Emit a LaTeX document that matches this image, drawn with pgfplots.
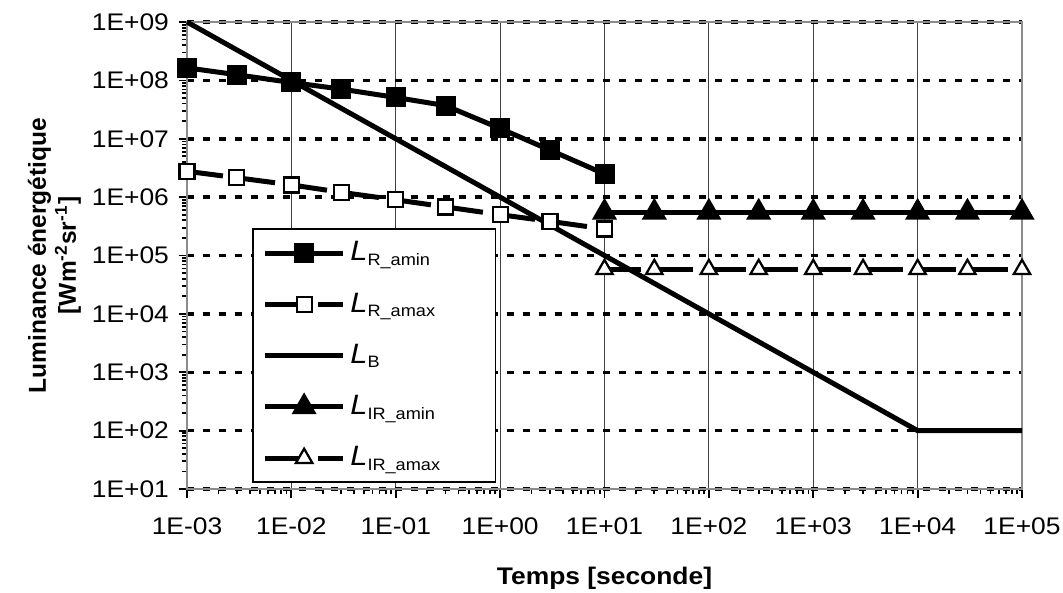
\documentclass[border=0pt]{standalone}
\usepackage{pgfplots}
\pgfplotsset{compat=1.18}
\usepackage{fontspec}
\setmainfont[FakeStretch=1.1]{Liberation Sans}
\newfontfamily\plainfont{Liberation Sans}
\usetikzlibrary{calc}

\newcommand{\leg}[1]{\makebox[52pt][l]{{\fontsize{11.2}{11}\selectfont\itshape L}\raisebox{-1.8pt}{\fontsize{6.6}{7}\selectfont #1}}}

\begin{document}%
\begin{tikzpicture}[font=\fontsize{9.6}{11}\selectfont]
\begin{axis}[
 name=ax, scale only axis, width=334pt, height=186.8pt,
 xmode=log, ymode=log, xmin=1e-3, xmax=1e5, ymin=10, ymax=1e9,
 clip=false,
 xtick={1e-3,1e-2,1e-1,1,10,100,1e3,1e4,1e5},
 xticklabels={1E-03,1E-02,1E-01,1E+00,1E+01,1E+02,1E+03,1E+04,1E+05},
 ytick={10,100,1e3,1e4,1e5,1e6,1e7,1e8,1e9},
 yticklabels={1E+01,1E+02,1E+03,1E+04,1E+05,1E+06,1E+07,1E+08,1E+09},
 minor xtick={2e-3,3e-3,4e-3,5e-3,6e-3,7e-3,8e-3,9e-3,
   2e-2,3e-2,4e-2,5e-2,6e-2,7e-2,8e-2,9e-2,
   2e-1,3e-1,4e-1,5e-1,6e-1,7e-1,8e-1,9e-1,
   2,3,4,5,6,7,8,9,20,30,40,50,60,70,80,90,
   200,300,400,500,600,700,800,900,
   2e3,3e3,4e3,5e3,6e3,7e3,8e3,9e3,
   2e4,3e4,4e4,5e4,6e4,7e4,8e4,9e4},
 minor ytick={20,30,40,50,60,70,80,90,
   200,300,400,500,600,700,800,900,
   2e3,3e3,4e3,5e3,6e3,7e3,8e3,9e3,
   2e4,3e4,4e4,5e4,6e4,7e4,8e4,9e4,
   2e5,3e5,4e5,5e5,6e5,7e5,8e5,9e5,
   2e6,3e6,4e6,5e6,6e6,7e6,8e6,9e6,
   2e7,3e7,4e7,5e7,6e7,7e7,8e7,9e7,
   2e8,3e8,4e8,5e8,6e8,7e8,8e8,9e8},
 tick label style={font=\fontsize{9.6}{11}\selectfont},
 xticklabel style={yshift=-4.5pt},
 yticklabel style={xshift=-0.3pt},
 axis line style={black!45, line width=0.9pt},
 tick align=outside, tick pos=left,
 major tick length=3.4pt, minor tick length=2pt,
 tick style={black, line width=0.7pt},
 xmajorgrids, ymajorgrids,
 x grid style={black!75, line width=0.4pt},
 y grid style={black, line width=1.4pt, dash pattern=on 2.7pt off 3.7pt},
 legend image code/.code={\draw[mark repeat=2,mark phase=2] plot coordinates {(0pt,0pt)(15.5pt,0pt)(31pt,0pt)};},
 legend cell align=left,
 legend style={at={(0.078,0.013)}, anchor=south west, draw=black, line width=0.6pt,
   fill=white, row sep=7.3pt, inner xsep=4pt, inner ysep=3pt},
]
\coordinate (sw) at (rel axis cs:0,0);
\coordinate (ne) at (rel axis cs:1,1);
\addplot[black, line width=2pt, mark=square*, mark size=3pt, mark options={solid}]
 coordinates {(1e-3,1.64e8)(3e-3,1.25e8)(1e-2,9.2e7)(3e-2,7.1e7)(1e-1,5.1e7)(3e-1,3.7e7)(1,1.5e7)(3,6.4e6)(10,2.5e6)};
\addlegendentry{\leg{R\_amin}}
\addplot[black, line width=2pt, dash pattern=on 14.5pt off 6.5pt, mark=square*, mark size=3pt, mark options={solid, fill=white, line width=0.9pt}]
 coordinates {(1e-3,2.77e6)(3e-3,2.15e6)(1e-2,1.62e6)(3e-2,1.21e6)(1e-1,9.0e5)(3e-1,6.8e5)(1,5.0e5)(3,3.85e5)(10,2.85e5)};
\addlegendentry{\leg{R\_amax}}
\addplot[black, line width=2pt]
 coordinates {(1e-3,1e9)(1e4,1e2)(1e5,1e2)};
\addlegendentry{\leg{B}}
\addplot[black, line width=2pt, mark=triangle*, mark size=3.8pt, mark options={solid}]
 coordinates {(10,5.5e5)(30,5.5e5)(100,5.5e5)(300,5.5e5)(1e3,5.5e5)(3e3,5.5e5)(1e4,5.5e5)(3e4,5.5e5)(1e5,5.5e5)};
\addlegendentry{\leg{IR\_amin}}
\addplot[black, line width=2pt, dash pattern=on 14.5pt off 6.5pt, mark=triangle*, mark size=3.8pt, mark options={solid, fill=white, line width=0.9pt}]
 coordinates {(10,5.8e4)(30,5.8e4)(100,5.8e4)(300,5.8e4)(1e3,5.8e4)(3e3,5.8e4)(1e4,5.8e4)(3e4,5.8e4)(1e5,5.8e4)};
\addlegendentry{\leg{IR\_amax}}
\end{axis}
\node[font=\bfseries\fontsize{9.6}{11}\selectfont] at ($(sw)!0.5!(sw-|ne)+(0,-35.6pt)$) {Temps [seconde]};
\node[rotate=90, align=center, font=\plainfont\bfseries\fontsize{9.8}{12}\selectfont] at ($(sw)!0.5!(sw|-ne)+(-53pt,0)$)
 {Luminance énergétique\\{[}Wm\textsuperscript{-2}sr\textsuperscript{-1}{]}};
\pgfresetboundingbox
\path[use as bounding box] ($(sw)+(-74.8pt,-41.2pt)$) rectangle ($(ne)+(16.4pt,8.8pt)$);
\end{tikzpicture}%
\end{document}
